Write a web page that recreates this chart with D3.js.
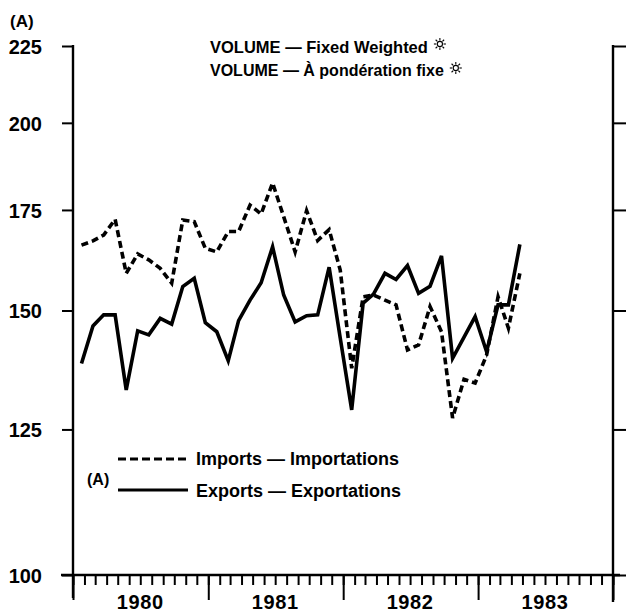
<!DOCTYPE html>
<html>
<head>
<meta charset="utf-8">
<style>
body { margin: 0; background: #fff; }
text { font-family: "Liberation Sans", Arial, sans-serif; font-weight: bold; fill: #000; }
.axis path, .axis line { stroke: #000; stroke-width: 2px; }
path.line { fill: none; stroke: #000; stroke-width: 3.6px; stroke-linejoin: miter; }
</style>
<title></title></head>
<body>
<script src="https://cdn.jsdelivr.net/npm/d3@7"></script>
<script>

// monthly values, Jan 1980 - Apr 1983 (index, 1971 = 100)
var imports = [165.8, 166.9, 168.4, 172.5, 158.8, 163.6, 162.1, 160.0, 156.4, 172.3, 171.9, 165.0,
               164.1, 169.3, 169.3, 176.3, 173.9, 182.4, 173.2, 164.1, 174.8, 167.0, 169.8, 159.6,
               137.3, 153.2, 153.6, 152.4, 151.3, 141.2, 142.3, 150.9, 145.2, 127.2, 135.0, 134.2,
               140.1, 153.2, 146.0, 158.8];
var exports = [138.3, 146.5, 149.0, 149.0, 132.8, 145.4, 144.5, 148.2, 146.9, 155.6, 157.6, 147.2,
               145.2, 138.9, 147.7, 152.4, 156.5, 165.4, 153.6, 147.4, 148.8, 149.0, 160.3, 143.8,
               128.8, 151.7, 153.8, 158.8, 157.3, 160.7, 154.0, 155.7, 163.1, 139.4, 144.0, 148.6,
               140.8, 151.3, 151.3, 166.0];
var yTicks = [100, 125, 150, 175, 200, 225];
var years = [1980, 1981, 1982, 1983];

var width = 626, height = 612;

var svg = d3.select("body").append("svg")
    .attr("width", width)
    .attr("height", height);

var x = d3.scaleTime()
    .domain([new Date(1980, 0, 1), new Date(1984, 0, 1)])
    .range([73, 613]);

var y = d3.scaleLog()
    .domain([100, 225])
    .range([575, 46]);

// point for month i sits late in the month
function px(d, i) { return x(new Date(1980, i, 24)); }

// left axis
var yl = svg.append("g")
    .attr("class", "axis")
    .attr("transform", "translate(73,0)")
    .call(d3.axisLeft(y).tickValues(yTicks).tickSize(11).tickSizeOuter(0)
          .tickPadding(20).tickFormat(d3.format("d")));
yl.selectAll("text").style("font-size", "20px").attr("dy", "0.36em");
yl.select(".domain").remove();
svg.append("line").attr("x1", 73).attr("x2", 73).attr("y1", y(225) - 1).attr("y2", 598)
    .attr("stroke", "#000").attr("stroke-width", 2.4);

// right axis
var yr = svg.append("g")
    .attr("class", "axis")
    .attr("transform", "translate(613,0)")
    .call(d3.axisRight(y).tickValues(yTicks).tickSize(13).tickSizeOuter(0).tickFormat(""));
yr.select(".domain").remove();
svg.append("line").attr("x1", 613).attr("x2", 613).attr("y1", y(225) - 1).attr("y2", 602)
    .attr("stroke", "#000").attr("stroke-width", 2.4);

// bottom axis: monthly minor ticks, yearly long ticks
var xm = svg.append("g")
    .attr("class", "axis")
    .attr("transform", "translate(0,575)")
    .call(d3.axisBottom(x).ticks(d3.timeMonth.every(1)).tickSize(10).tickSizeOuter(0).tickFormat(""));
xm.select(".domain").remove();
xm.selectAll("line").attr("stroke-width", 1.8);

var xy = svg.append("g")
    .attr("class", "axis")
    .attr("transform", "translate(0,575)")
    .call(d3.axisBottom(x).ticks(d3.timeYear.every(1)).tickSize(25).tickSizeOuter(0).tickFormat(""));
xy.select(".domain").remove();

svg.append("line").attr("x1", 61).attr("x2", 620).attr("y1", 575).attr("y2", 575)
    .attr("stroke", "#000").attr("stroke-width", 2.4);

svg.append("g").selectAll("text")
    .data(years)
    .enter().append("text")
    .attr("x", function(d) { return x(new Date(d, 6, 1)); })
    .attr("y", 609)
    .attr("text-anchor", "middle")
    .style("font-size", "20px")
    .style("letter-spacing", "0.6px")
    .text(function(d) { return d; });

// series
var line = d3.line()
    .x(px)
    .y(function(d) { return y(d); });

svg.append("path")
    .datum(imports)
    .attr("class", "line")
    .attr("stroke-dasharray", "7,4")
    .attr("d", line);

svg.append("path")
    .datum(exports)
    .attr("class", "line")
    .attr("d", line);

// small outlined sun mark drawn after a heading
function sun(cx, cy) {
  var g = svg.append("g").attr("transform", "translate(" + cx + "," + cy + ")");
  g.append("circle").attr("r", 2.6).attr("fill", "#fff").attr("stroke", "#000").attr("stroke-width", 1.1);
  d3.range(8).forEach(function(k) {
    var a = k * Math.PI / 4;
    g.append("line")
      .attr("x1", 3.6 * Math.cos(a)).attr("y1", 3.6 * Math.sin(a))
      .attr("x2", 6 * Math.cos(a)).attr("y2", 6 * Math.sin(a))
      .attr("stroke", "#000").attr("stroke-width", 1.1);
  });
}

// headings
svg.append("text").attr("x", 10).attr("y", 27).style("font-size", "17px").text("(A)");

var t1 = svg.append("text").attr("x", 210).attr("y", 53).style("font-size", "16.5px")
    .text("VOLUME \u2014 Fixed Weighted");
sun(210 + t1.node().getComputedTextLength() + 12, 44);

var t2 = svg.append("text").attr("x", 210).attr("y", 76).style("font-size", "16px")
    .text("VOLUME \u2014 \u00C0 pond\u00E9ration fixe");
sun(210 + t2.node().getComputedTextLength() + 12, 68);

// legend
svg.append("line").attr("x1", 118).attr("x2", 190).attr("y1", 459).attr("y2", 459)
    .attr("stroke", "#000").attr("stroke-width", 2.8).attr("stroke-dasharray", "8,4");
svg.append("line").attr("x1", 118).attr("x2", 188).attr("y1", 490).attr("y2", 490)
    .attr("stroke", "#000").attr("stroke-width", 2.8);
svg.append("text").attr("x", 196).attr("y", 465).style("font-size", "18px").text("Imports \u2014 Importations");
svg.append("text").attr("x", 196).attr("y", 497).style("font-size", "18px").text("Exports \u2014 Exportations");
svg.append("text").attr("x", 87).attr("y", 485).style("font-size", "16px").text("(A)");

</script>
</body>
</html>
